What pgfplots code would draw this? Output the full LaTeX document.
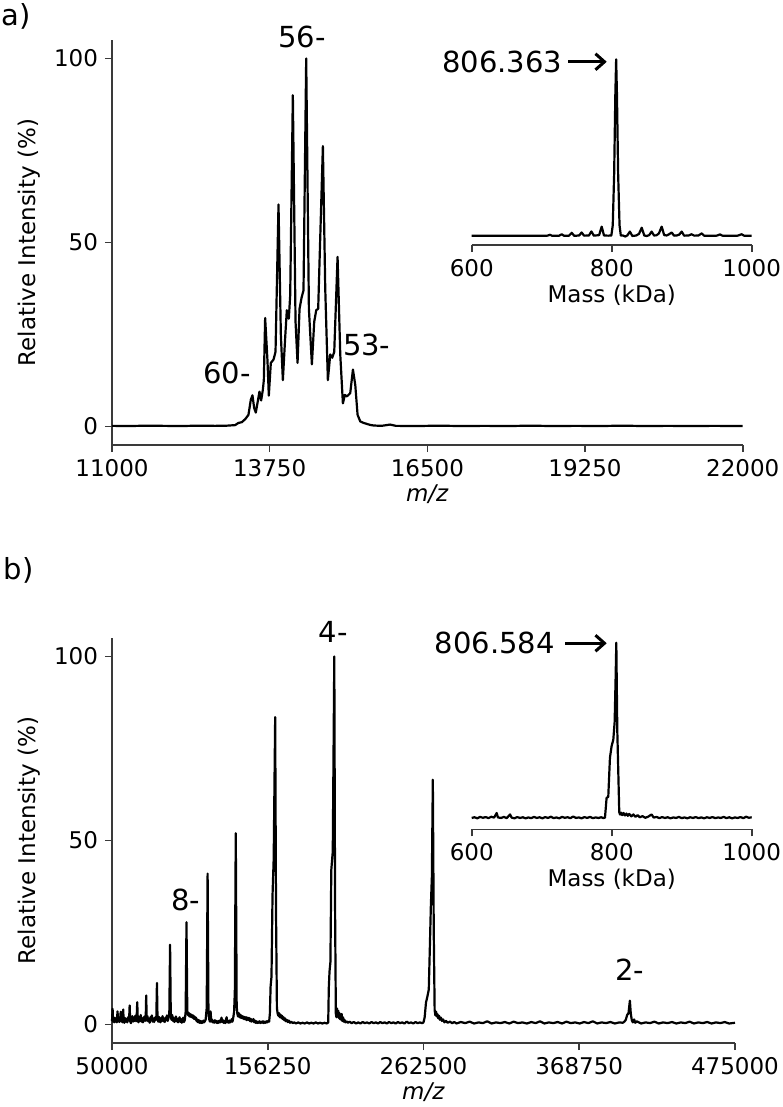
\documentclass[border=0pt]{standalone}
\usepackage{fontspec}
\setmainfont{DejaVu Sans}
\usepackage{pgfplots}
\usepackage{pgfplotstable}
\pgfplotsset{compat=1.18}
\usetikzlibrary{arrows.meta}

\newcommand\tickfont{\fontsize{11.5bp}{13bp}\selectfont}
\newcommand\bigfont{\fontsize{14.5bp}{17bp}\selectfont}
\definecolor{axisgray}{HTML}{3A3A3A}

\pgfplotsset{
  spectrum/.style={
    scale only axis,
    scaled ticks=false,
    axis lines*=left,
    axis line style={axisgray, line width=0.8bp},
    tick style={axisgray, line width=0.8bp},
    tick align=outside,
    major tick length=3.5bp,
    ticklabel style={font=\tickfont, text=black},
    label style={font=\tickfont},
    xlabel style={yshift=2.5bp},
    clip=false,
  },
  trace/.style={black, line width=1.1bp, line join=round, mark=none},
}

% panel a: native MS, charge state envelope (m/z, relative intensity)
\pgfplotstableread{
x y
11000 0.2
11300 0.15
11600 0.25
11900 0.2
12200 0.15
12500 0.25
12800 0.2
13000 0.25
13147 0.4
13206 1.0
13264 1.2
13322 2.0
13380 3.2
13421 7.3
13450 8.5
13479 5.1
13508 3.8
13543 6.9
13572 9.5
13601 7.1
13630 9.9
13648 12.6
13671 29.5
13712 17.8
13735 8.4
13770 17.3
13817 18.2
13852 20.3
13904 60.3
13945 24.9
13980 12.6
14020 24.1
14049 31.6
14084 29.3
14108 35.7
14154 90.0
14201 28.5
14236 17.3
14271 32.0
14306 35.0
14340 37.0
14387 100
14434 32.0
14486 16.9
14527 28.5
14562 31.6
14596 32.0
14678 76.2
14719 37.5
14765 12.6
14806 19.6
14841 18.7
14876 20.3
14934 46.1
14981 19.6
15027 6.3
15062 8.6
15097 8.2
15155 9.1
15202 15.5
15243 11.3
15283 3.2
15330 1.4
15388 1.0
15504 0.45
15563 0.3
15700 0.2
15850 0.55
15950 0.2
16300 0.15
16700 0.25
17100 0.15
17500 0.2
17900 0.15
18300 0.25
18700 0.15
19100 0.2
19500 0.15
19900 0.25
20300 0.15
20700 0.2
21100 0.15
21500 0.2
22000 0.15
}\spectrumA

% panel a inset: deconvolved mass (kDa)
\pgfplotstableread{
x y
600 0.2
650 0.2
700 0.2
708 0.2
711.9 0.7
715 0.1
725 0.2
728.6 1.0
732 0.1
739 0.2
742.9 1.8
746.5 0.1
753.5 0.3
757 2.0
760.5 0.2
767.5 0.3
771 2.6
774.5 0.2
782 0.5
785.7 5.3
789 0.3
795 0.2
799.5 0.3
801.5 6
803.5 35
805.2 80
806.363 100
807.5 80
809.2 35
811.2 6
813 0.3
816 0.3
819.5 -0.3
822.5 0.4
826 2.5
829.5 0.0
835 0.3
839 1.2
842.9 4.7
846.5 0.3
850 0.0
853.5 0.5
857 2.5
860.5 0.3
864 0.4
867.5 1.5
871.4 5.3
875 0.5
878.5 0.3
882 1.0
885.7 2.0
889 0.2
893 0.3
896.5 0.8
900 2.5
903.5 0.2
910 0.3
914 1.0
918 0.2
924 0.3
928.6 1.5
932 0.2
950 0.2
954.8 0.9
958 0.2
980 0.2
985.7 1.0
989 0.2
1000 0.2
}\massA

% panel b: charge-reduced spectrum
\pgfplotstableread{
x y
50000 1.0
50412 4.3
50700 0.8
51100 1.5
51500 0.6
51900 1.9
52300 0.8
52800 1.3
53300 0.6
53772 3.6
54150 0.9
54600 1.8
55000 0.7
55500 1.2
55935 3.5
56300 0.9
56800 1.7
57200 0.6
57613 4.1
58000 1.0
58400 0.5
58900 1.8
59400 0.8
59900 1.5
60400 0.6
60900 2.0
61400 1.1
61700 1.6
62045 5.2
62400 0.9
62900 0.4
63400 1.7
63900 2.3
64400 0.8
64900 1.9
65400 1.0
65900 2.4
66400 0.9
66800 1.6
67215 6.1
67600 1.2
68100 0.6
68600 2.1
69100 1.0
69600 2.6
70100 0.8
70600 1.8
71100 0.6
71600 1.4
72100 2.2
72600 1.0
73000 1.8
73326 7.9
73700 1.1
74200 2.3
74700 0.9
75200 1.6
75700 0.5
76200 2.0
76700 1.2
77200 2.5
77700 0.8
78200 1.5
78700 0.7
79200 1.9
79700 1.2
80250 2.2
80658 11.3
81050 1.6
81500 0.8
82000 2.1
82500 1.4
83000 0.6
83500 1.8
84000 1.0
84500 2.3
85000 0.9
85500 1.6
86000 0.7
86500 1.9
87000 1.2
87500 2.5
88000 1.0
88500 1.7
89100 3.0
89620 21.7
90100 2.4
90600 1.3
91100 2.6
91600 1.0
92100 1.8
92600 0.7
93100 1.5
93600 2.2
94100 0.9
94600 1.6
95100 0.6
95600 1.4
96100 2.0
96600 0.8
97100 1.5
97600 0.5
98100 1.2
98600 1.9
99100 0.7
99700 1.3
100250 3.5
100823 27.8
101350 3.6
101800 2.6
102300 3.2
102800 2.2
103300 2.9
103800 2.1
104300 2.7
104800 1.9
105300 2.5
105800 1.6
106300 2.2
106800 1.4
107300 1.9
107800 0.9
108300 1.4
108800 0.6
109300 1.2
109800 0.5
110300 1.0
110800 0.4
111300 0.9
111800 0.5
112300 1.1
112800 0.6
113300 0.9
113900 1.4
114600 4.5
115226 41.0
115800 3.2
116300 1.5
116800 0.8
117250 3.6
117700 0.9
118200 1.4
118700 0.6
119200 1.0
119700 0.5
120200 1.2
120700 0.6
121200 1.0
121700 0.4
122200 0.9
122700 0.5
123200 1.1
123700 0.6
124200 0.8
124700 1.9
125200 0.7
125700 1.2
126200 0.5
126700 0.9
127200 0.4
127700 1.3
128200 2.0
128700 0.6
129200 1.0
129700 0.5
130200 1.1
130700 0.6
131200 0.9
131700 1.5
132200 0.8
132800 2.1
133300 3.5
133800 9.0
134431 52.0
135050 5.0
135500 3.0
136000 2.2
136500 3.1
137000 2.0
137500 2.7
138000 1.8
138500 2.4
139000 1.7
139500 2.2
140000 1.5
140500 2.1
141000 1.4
141500 2.0
142000 1.2
142500 1.9
143000 1.3
143500 1.8
144000 1.0
144500 1.6
145000 0.8
145500 1.4
146000 0.9
146500 1.5
147000 0.6
147500 1.1
148000 0.5
148500 0.9
149000 0.4
149500 0.8
150000 0.5
150600 0.9
151200 0.4
151800 0.8
152400 0.5
153000 0.9
153600 0.4
154200 0.8
154800 0.5
155400 0.9
156000 0.6
156600 1.0
157200 0.8
157700 3.0
158200 10.4
158800 13.0
159500 35.0
160300 45.0
161317 83.5
161900 30.0
162500 4.5
163000 3.0
163500 2.4
164000 3.1
164500 2.0
165000 2.7
165500 1.8
166000 2.4
166500 1.5
167000 2.0
167500 1.2
168000 1.7
168600 0.9
169200 1.3
169900 0.7
170600 1.1
171400 0.5
172300 0.8
173300 0.4
174300 0.6
175500 0.3
177000 0.6
178500 0.3
180000 0.5
181500 0.3
183000 0.6
184500 0.3
186000 0.5
187500 0.3
189000 0.6
190500 0.3
192000 0.5
193500 0.3
195000 0.5
196500 0.3
197500 0.6
197900 10.0
198400 14.5
199000 17.0
199600 42.0
200600 47.0
201646 100
202200 30.0
202700 3.0
203100 2.0
203500 4.4
203900 2.4
204300 3.8
204700 1.8
205100 3.2
205500 1.5
205900 2.6
206300 1.3
206700 2.9
207100 1.0
207600 2.0
208100 0.8
208600 1.3
209200 0.6
210000 0.9
211000 0.5
212000 0.8
213500 0.4
215000 0.7
216500 0.3
218000 0.6
219500 0.3
221000 0.7
222500 0.4
224000 0.6
225500 0.3
227000 0.7
228500 0.4
230000 0.6
231500 0.3
233000 0.7
234500 0.4
236000 0.6
237500 0.3
239000 0.7
240500 0.4
242000 0.6
243500 0.3
245000 0.7
246500 0.4
248000 0.6
249500 0.3
251000 0.8
252500 0.4
254000 0.6
255500 0.3
257000 0.7
258500 0.4
260000 0.6
261500 0.4
262500 0.6
263300 2.0
264200 6.0
265200 7.7
266100 9.5
266900 22.0
267500 32.0
268200 40.0
268861 66.5
269500 25.0
270100 4.0
270600 2.5
271100 3.5
271600 2.2
272100 2.8
272600 1.7
273100 2.4
273700 1.3
274400 1.9
275100 1.0
275900 1.4
276800 0.6
277800 1.0
279000 0.5
280500 0.8
282000 0.4
283500 0.7
285000 0.3
288000 0.7
291000 0.4
294000 0.8
297000 0.3
300000 0.6
303000 0.4
306000 0.9
309000 0.3
312000 0.6
315000 0.4
318000 0.7
321000 0.3
324000 0.8
327000 0.4
330000 0.6
333000 0.3
336000 0.7
339000 0.4
342000 0.9
345000 0.3
348000 0.6
351000 0.4
354000 0.7
357000 0.3
360000 0.8
363000 0.4
366000 0.6
369000 0.3
372000 0.7
375000 0.4
378000 0.9
381000 0.3
384000 0.6
387000 0.4
390000 0.7
393000 0.3
396000 0.6
398500 0.5
399500 0.8
400500 1.3
401500 2.7
402300 3.0
403292 6.5
403900 3.0
404600 1.2
405300 0.6
406200 1.4
407000 0.5
408000 0.9
411000 0.3
414000 0.6
417000 0.4
420000 0.8
423000 0.3
426000 0.6
429000 0.4
432000 0.7
435000 0.3
438000 0.6
441000 0.4
444000 0.8
447000 0.3
450000 0.6
453000 0.4
456000 0.7
459000 0.3
462000 0.6
465000 0.4
468000 0.7
471000 0.3
475000 0.5
}\spectrumB

% panel b inset: deconvolved mass (kDa)
\pgfplotstableread{
x y
600 0.6
604 1.0
608 0.4
612 1.2
616 0.7
620 1.1
624 0.5
628 1.3
632 0.8
635.7 3.4
637.5 0.9
642 0.6
646 1.2
650 0.5
654.8 2.6
657 0.8
661 0.4
665 1.1
669 0.6
673 1.0
677 0.4
681 0.9
685 0.5
689 1.2
693 0.6
697 1.0
701 0.4
705 1.1
709 0.6
713 1.3
717 0.5
721 0.9
725 0.4
729 1.2
733 0.7
737 1.0
741 0.5
745 1.4
749 0.6
753 0.9
757 0.4
761 1.1
765 0.6
769 1.2
773 0.5
777 0.9
781 0.6
785 1.0
788 0.5
790.4 0.8
791.5 6
792.7 12
795.1 12.6
797.5 34.8
799.9 41.4
802.3 45
804.2 55
805.6 80
806.584 100
808 50
810.8 3.8
812 2.5
813.5 3.6
815 2.2
817 3.4
819 2.0
821 3.1
823 1.8
825 2.9
828 1.5
831 2.6
834 1.2
837 2.2
840 1.0
844 1.6
848 0.7
852 1.3
857 2.6
860 0.8
864 1.2
868 0.5
872 1.1
876 0.6
880 1.0
884 0.4
888 0.9
892 0.6
896 1.2
900 0.5
904 0.9
908 0.4
912 1.0
916 0.6
920 1.1
924 0.5
928 0.9
932 0.4
936 1.0
940 0.6
944 1.1
948 0.5
952 0.9
956 0.6
960 1.2
964 0.5
968 1.0
972 0.4
976 0.9
980 0.6
984 1.1
988 0.5
992 1.3
996 0.7
1000 1.0
}\massB

\begin{document}
\begin{tikzpicture}
\path[use as bounding box] (0,0) rectangle (391.5bp,-553.5bp);

% ---------------- panel a ----------------
\begin{axis}[spectrum,
  at={(56bp,-222.5bp)}, anchor=south west,
  width=315.35bp, height=202.5bp,
  xmin=11000, xmax=22000, ymin=-5, ymax=105,
  xtick={11000,13750,16500,19250,22000},
  xticklabels={11000,13750,16500,19250,22000},
  ytick={0,50,100}, yticklabels={0,50,100},
  xlabel={\textit{m/z}}, ylabel={Relative Intensity (\%)},
]
\addplot[trace] table {\spectrumA};
\node[font=\bigfont] at (axis cs:14317,105.9) {56-};
\node[font=\bigfont] at (axis cs:13006,14.5) {60-};
\node[font=\bigfont] at (axis cs:15442,22.2) {53-};
\end{axis}

\begin{axis}[spectrum,
  at={(235.85bp,-122.5bp)}, anchor=south west,
  width=140bp, height=92.85bp,
  axis x line*=bottom, axis y line=none,
  xmin=600, xmax=1000, ymin=-5.09, ymax=100,
  xtick={600,800,1000}, xticklabels={600,800,1000}, ytick=\empty,
  xlabel={Mass (kDa)},
]
\addplot[trace] table {\massA};
\node[anchor=east, inner sep=0pt, font=\bigfont] at (axis cs:730,98.6) {806.363};
\draw[line width=1.5bp, -{Straight Barb[length=4.5bp, width=8bp]}]
  (axis cs:737.6,98.6) -- (axis cs:792.9,98.6);
\end{axis}

% ---------------- panel b ----------------
\begin{axis}[spectrum,
  at={(56bp,-521.5bp)}, anchor=south west,
  width=311.5bp, height=202.5bp,
  xmin=50000, xmax=475000, ymin=-5, ymax=105,
  xtick={50000,156250,262500,368750,475000},
  xticklabels={50000,156250,262500,368750,475000},
  ytick={0,50,100}, yticklabels={0,50,100},
  xlabel={\textit{m/z}}, ylabel={Relative Intensity (\%)},
]
\addplot[trace] table {\spectrumB};
\node[font=\bigfont] at (axis cs:200970,106.7) {4-};
\node[font=\bigfont] at (axis cs:100350,33.9) {8-};
\node[font=\bigfont] at (axis cs:403170,14.8) {2-};
\end{axis}

\begin{axis}[spectrum,
  at={(235.85bp,-414.65bp)}, anchor=south west,
  width=140bp, height=93.3bp,
  axis x line*=bottom, axis y line=none,
  xmin=600, xmax=1000, ymin=-5.84, ymax=100,
  xtick={600,800,1000}, xticklabels={600,800,1000}, ytick=\empty,
  xlabel={Mass (kDa)},
]
\addplot[trace] table {\massB};
\node[anchor=east, inner sep=0pt, font=\bigfont] at (axis cs:719,99.7) {806.584};
\draw[line width=1.5bp, -{Straight Barb[length=4.5bp, width=8bp]}]
  (axis cs:733.3,99.7) -- (axis cs:792.9,99.7);
\end{axis}

% panel letters
\node[anchor=west, inner sep=0pt, font=\bigfont] at (0.8bp,-8.35bp) {a)};
\node[anchor=west, inner sep=0pt, font=\bigfont] at (1.6bp,-285bp) {b)};
\end{tikzpicture}
\end{document}
